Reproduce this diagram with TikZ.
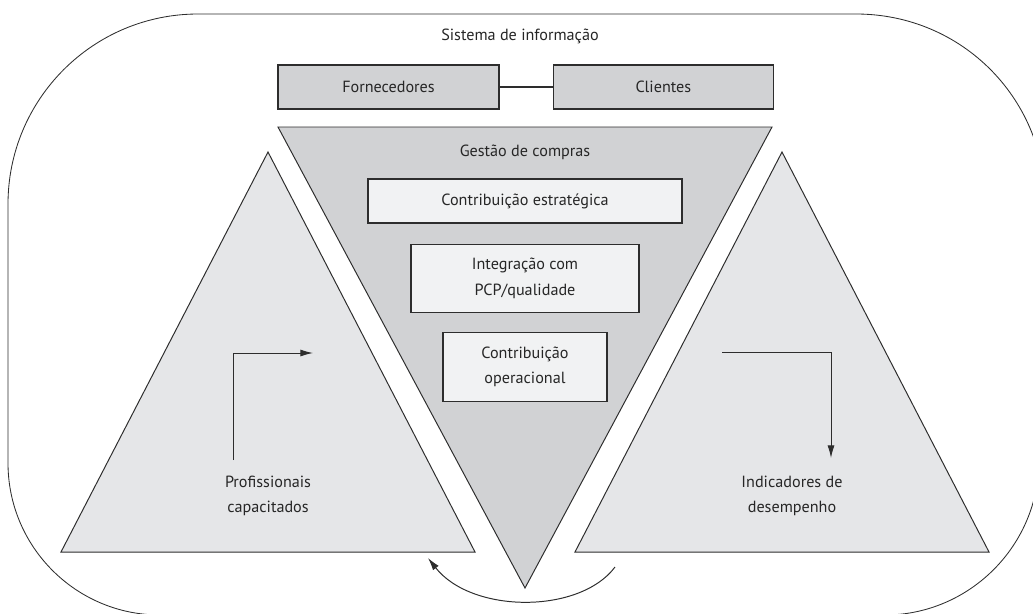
\documentclass[tikz,border=0pt]{standalone}
\usepackage{fontspec}
\setmainfont{PT Sans}
\usepackage{xcolor}
\usetikzlibrary{arrows.meta,positioning}
\definecolor{darkfill}{RGB}{209,210,212}
\definecolor{lightfill}{RGB}{229,230,232}
\definecolor{boxfill}{RGB}{241,242,243}
\definecolor{linecol}{RGB}{45,45,45}
\tikzset{%
	block/.style  = {draw=linecol, line width=0.9pt, rectangle, fill=darkfill, minimum height=1.1cm, align=center}, % top boxes
	inbox/.style  = {block, fill=boxfill}, % boxes in the wedge
	wedge/.style  = {draw=linecol, line width=0.7pt}, % triangles
	txt/.style    = {align=center, inner sep=0pt},
	arrow/.style  = {line width=0.7pt, draw=linecol, -{Latex[length=9pt,width=5pt]}},
}
\begin{document}
\begin{tikzpicture}[x=0.025cm, y=-0.025cm, font=\fontsize{11.5}{18}\selectfont, text=black!85]
	\useasboundingbox (0,0) rectangle (1033,613);
	\clip (0,0) rectangle (1033,613);
	% frame
	\draw[wedge, line width=0.6pt] (8,400) [rounded corners=4.75cm] -- (8,14) [rounded corners=4.85cm] -- (1050,14) [rounded corners=3.75cm] -- (1035,615) [rounded corners=3.8cm] -- (8,615) [sharp corners] -- (8,400);
	\node[txt] (si) at (520,36) {Sistema de informação};
	
	\node[block, minimum width=5.525cm] (forn) at (388.5,87) {Fornecedores};
	\node[block, minimum width=5.5cm, right=1.325cm of forn] (cli) {Clientes};
	\draw[line width=0.9pt, linecol] (forn) -- (cli);
	
	% triangles
	\draw[wedge, fill=darkfill] (278,127) -- (772,127) -- (525,588) -- cycle;
	\draw[wedge, fill=lightfill] (268,152) -- (475,552) -- (61,552) -- cycle;
	\draw[wedge, fill=lightfill] (782,152) -- (989,552) -- (575,552) -- cycle;
	
	\node[txt] (gc) at (525,152) {Gestão de compras};
	\node[inbox, minimum width=7.85cm] (ce) at (525,201) {Contribuição estratégica};
	\node[inbox, minimum width=5.7cm, minimum height=1.7cm, below=0.5cm of ce] (ip) {Integração com\\PCP/qualidade};
	\node[inbox, minimum width=4.1cm, minimum height=1.725cm, below=0.475cm of ip] (co) {Contribuição\\operacional};
	
	\node[txt] (pc) at (268,496) {Profissionais\\capacitados};
	\node[txt] (id) at (792,496) {Indicadores de\\desempenho};
	
	\coordinate (pc0) at (233,460);
	\coordinate (pc1) at (313,353);
	\coordinate (id0) at (722,352);
	\coordinate (id1) at (831,458);
	\coordinate (cy0) at (615,567);
	\coordinate (cy1) at (428,558);
	
	\draw[arrow] (pc0) |- (pc1);
	\draw[arrow] (id0) -| (id1);
	\draw[arrow] (cy0) .. controls (580,614) and (472,614) .. (cy1);
\end{tikzpicture}
\end{document}
